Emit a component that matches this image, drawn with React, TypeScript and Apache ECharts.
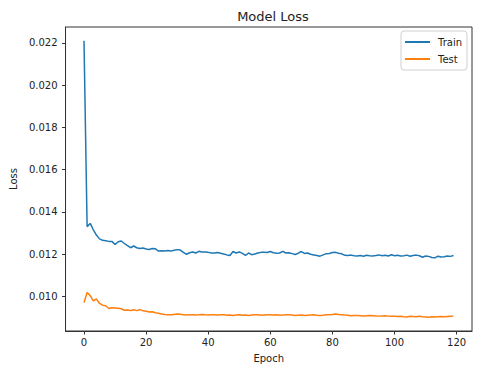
import React, { useEffect, useRef } from "react";
import * as echarts from "echarts";

const trainLoss = [
  0.0221, 0.0133, 0.01345, 0.01315, 0.0129, 0.01272, 0.01265, 0.01263, 0.0126, 0.0126,
  0.01245, 0.01258, 0.01262, 0.0125, 0.0124, 0.0123, 0.01238, 0.0123, 0.01226, 0.01229,
  0.01224, 0.01222, 0.01226, 0.01225, 0.01214, 0.01216, 0.01215, 0.01217, 0.01214, 0.01218,
  0.01221, 0.01219, 0.01208, 0.01199, 0.01206, 0.0121, 0.01205, 0.01213, 0.0121, 0.0121,
  0.01208, 0.01205, 0.01205, 0.01207, 0.01204, 0.012, 0.01196, 0.01193, 0.01212, 0.01205,
  0.0121, 0.01203, 0.01194, 0.01205, 0.01197, 0.012, 0.01205, 0.01208, 0.01209, 0.01207,
  0.01212, 0.01206, 0.01204, 0.01205, 0.01213, 0.01205, 0.01206, 0.01202, 0.01198, 0.01204,
  0.01212, 0.01203, 0.01205, 0.01199, 0.01196, 0.01193, 0.0119, 0.01196, 0.01202, 0.01203,
  0.01207, 0.01208, 0.01204, 0.01201, 0.01194, 0.01193, 0.01195, 0.01192, 0.01191, 0.01193,
  0.0119, 0.01194, 0.01192, 0.01191, 0.01193, 0.01196, 0.01192, 0.01194, 0.01191, 0.01197,
  0.01192, 0.01194, 0.01191, 0.01192, 0.01195, 0.0119, 0.01193, 0.01195, 0.01192, 0.01185,
  0.01191, 0.01189, 0.01184, 0.01182, 0.0119, 0.01186, 0.01187, 0.01191, 0.01189, 0.01193,
];

const testLoss = [
  0.0097, 0.01018, 0.01003, 0.00978, 0.00988, 0.00966, 0.00958, 0.00955, 0.00942, 0.00946,
  0.00945, 0.00943, 0.00941, 0.00934, 0.00935, 0.00933, 0.00936, 0.00932, 0.00937, 0.00931,
  0.00929, 0.00926, 0.00927, 0.00922, 0.0092, 0.00916, 0.00914, 0.00913, 0.00912, 0.00914,
  0.00916, 0.00915, 0.00913, 0.00911, 0.00912, 0.00913, 0.00911, 0.00912, 0.00914, 0.00912,
  0.00911, 0.00913, 0.00912, 0.00911, 0.00913, 0.00912, 0.0091, 0.00911, 0.00909, 0.00911,
  0.00912, 0.0091, 0.00911, 0.00909, 0.00911, 0.00913, 0.00912, 0.0091, 0.00911, 0.00912,
  0.00913, 0.00911, 0.00912, 0.0091, 0.00911, 0.00913, 0.00912, 0.00911, 0.00909, 0.0091,
  0.00911, 0.00909, 0.0091, 0.00911, 0.00912, 0.0091, 0.00909, 0.0091, 0.00912, 0.00913,
  0.00914, 0.00916, 0.00914, 0.00913, 0.00911, 0.0091, 0.00908, 0.00909, 0.00909, 0.00908,
  0.00907, 0.00908, 0.00909, 0.00908, 0.00907, 0.00906, 0.00907, 0.00908, 0.00906, 0.00905,
  0.00906, 0.00904, 0.00905, 0.00903, 0.00902, 0.00905, 0.00904, 0.00903, 0.00905, 0.00903,
  0.00902, 0.00901, 0.00903, 0.00902, 0.00903, 0.00904, 0.00903, 0.00904, 0.00905, 0.00906,
];

const xTicks = [0, 20, 40, 60, 80, 100, 120];
const yTicks = [0.01, 0.012, 0.014, 0.016, 0.018, 0.02, 0.022];

export default function App() {
  const ref = useRef<HTMLDivElement>(null);
  useEffect(() => {
    if (!ref.current) return;
    const chart = echarts.init(ref.current, null, { renderer: "svg" });
    const font = "DejaVu Sans";
    const txt = "#222";
    const n = trainLoss.length;
    const all = trainLoss.concat(testLoss);
    const dmin = Math.min(...all);
    const dmax = Math.max(...all);
    const ym = (dmax - dmin) * 0.05;
    const xm = (n - 1) * 0.05;
    chart.setOption({
      animation: false,
      backgroundColor: "#fff",
      textStyle: { fontFamily: font },
      title: {
        text: "Model Loss",
        left: 268,
        textAlign: "center",
        top: 5,
        textStyle: { fontFamily: font, fontSize: 13, fontWeight: "normal", color: txt },
      },
      legend: {
        orient: "vertical",
        right: 13,
        top: 31,
        icon: "rect",
        itemWidth: 25,
        itemHeight: 2,
        itemGap: 5,
        padding: [5, 5, 5, 4],
        borderColor: "#d0d0d0",
        borderWidth: 1,
        borderRadius: 3,
        textStyle: { fontFamily: font, fontSize: 10, color: txt, padding: [0, 0, 0, 3], lineHeight: 12 },
        data: ["Train", "Test"],
      },
      grid: {
        left: 65,
        right: 8,
        top: 27,
        bottom: 43,
        show: true,
        borderColor: "#333",
        borderWidth: 1,
      },
      xAxis: {
        type: "value",
        min: -xm,
        max: n - 1 + xm,
        name: "Epoch",
        nameLocation: "middle",
        nameGap: 22,
        nameTextStyle: { fontFamily: font, fontSize: 10, color: txt },
        splitLine: { show: false },
        axisLine: { show: true, onZero: false, lineStyle: { color: "#333" } },
        axisTick: { show: true, customValues: xTicks, length: 3.5, lineStyle: { color: "#333" } },
        axisLabel: { customValues: xTicks, fontSize: 10, color: txt, margin: 6, fontFamily: font },
      },
      yAxis: {
        type: "value",
        min: dmin - ym,
        max: dmax + ym,
        name: "Loss",
        nameLocation: "middle",
        nameGap: 46,
        nameTextStyle: { fontFamily: font, fontSize: 10, color: txt },
        splitLine: { show: false },
        axisLine: { show: true, onZero: false, lineStyle: { color: "#333" } },
        axisTick: { show: true, customValues: yTicks, length: 3.5, lineStyle: { color: "#333" } },
        axisLabel: {
          customValues: yTicks,
          fontSize: 10,
          color: txt,
          margin: 8,
          fontFamily: font,
          formatter: (v: number) => v.toFixed(3),
        },
      },
      series: [
        {
          name: "Train",
          type: "line",
          symbol: "none",
          data: trainLoss.map((v, i) => [i, v]),
          lineStyle: { color: "#1f77b4", width: 1.5 },
          itemStyle: { color: "#1f77b4" },
        },
        {
          name: "Test",
          type: "line",
          symbol: "none",
          data: testLoss.map((v, i) => [i, v]),
          lineStyle: { color: "#ff7f0e", width: 1.5 },
          itemStyle: { color: "#ff7f0e" },
        },
      ],
    });
    return () => chart.dispose();
  }, []);
  return <div ref={ref} style={{ width: 480, height: 374, position: "absolute", left: 0, top: 0 }} />;
}
